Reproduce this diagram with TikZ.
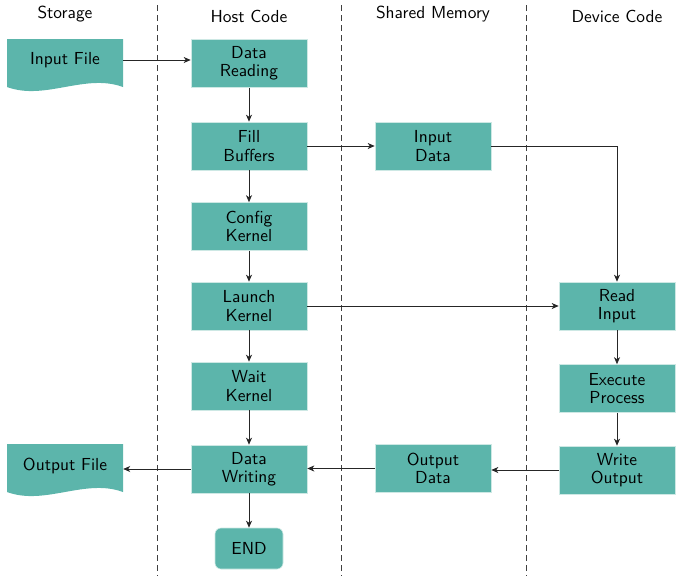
\documentclass[tikz,border=0pt]{standalone}
\usepackage{fontspec}
\setsansfont{lmsans10-regular.otf}
\usetikzlibrary{arrows.meta,calc}
\definecolor{boxteal}{RGB}{92,181,171}
\definecolor{boxedge}{RGB}{205,232,228}
\begin{document}
\begin{tikzpicture}[x=1pt,y=-1pt,
  every node/.style={font=\sffamily\fontsize{17.4}{18.5}\selectfont},
  stepbox/.style={rectangle,fill=boxteal,draw=boxedge,line width=0.6pt,
    minimum width=116pt,minimum height=48pt,align=center,inner sep=1pt},
  endbox/.style={rectangle,rounded corners=6pt,fill=boxteal,draw=boxedge,line width=0.6pt,
    minimum width=68pt,minimum height=41pt,align=center},
  filelabel/.style={rectangle,minimum width=116pt,minimum height=40pt,inner sep=0pt},
  header/.style={inner sep=0pt},
  lane/.style={dashed,dash pattern=on 6pt off 4pt,line width=0.8pt,black!75},
  flow/.style={-{Stealth[length=7pt,width=6pt,inset=2pt]},line width=0.8pt,black!85}]
\useasboundingbox (0,0) rectangle (677,576);

% lanes
\draw[lane] (157,5) -- (157,576);
\draw[lane] (341,5) -- (341,576);
\draw[lane] (526,5) -- (526,576);

% headers
\node[header] (hstor) at (65,14) {Storage};
\node[header] (hhost) at (249,16) {Host Code};
\node[header] (hshm) at (433,14) {Shared Memory};
\node[header] (hdev) at (617,16) {Device Code};

% file shapes
\fill[boxteal] (7,39) -- (123,39) -- (123,87) .. controls (85,73) and (45,101) .. (7,87) -- cycle;
\node[filelabel] (inf) at (65,60) {Input File};
\fill[boxteal] (7,444) -- (123,444) -- (123,492) .. controls (85,478) and (45,506) .. (7,492) -- cycle;
\node[filelabel] (outf) at (65,466) {Output File};

% host code
\node[stepbox] (read) at (249,63.5) {Data\\Reading};
\node[stepbox] (fill) at (249,146) {Fill\\Buffers};
\node[stepbox] (conf) at (249,226.5) {Config\\Kernel};
\node[stepbox] (launch) at (249,306) {Launch\\Kernel};
\node[stepbox] (wait) at (249,386) {Wait\\Kernel};
\node[stepbox] (write) at (249,469) {Data\\Writing};
\node[endbox] (end) at (249,548.5) {END};

% shared memory
\node[stepbox] (indata) at (433,146) {Input\\Data};
\node[stepbox] (outdata) at (433,468.5) {Output\\Data};

% device code
\node[stepbox] (rin) at (617,306) {Read\\Input};
\node[stepbox] (exec) at (617,388.5) {Execute\\Process};
\node[stepbox] (wout) at (617,470) {Write\\Output};

% connectors
\draw[flow] (inf.east) -- (inf.east -| read.west);
\draw[flow] (read) -- (fill);
\draw[flow] (fill) -- (conf);
\draw[flow] (conf) -- (launch);
\draw[flow] (launch) -- (wait);
\draw[flow] (wait) -- (write);
\draw[flow] (write) -- (end);
\draw[flow] (fill) -- (indata);
\draw[flow] (indata.east) -| (rin.north);
\draw[flow] (launch) -- (rin);
\draw[flow] (rin) -- (exec);
\draw[flow] (exec) -- (wout);
\draw[flow] (wout.west) -- (wout.west -| outdata.east);
\draw[flow] (outdata.west) -- (outdata.west -| write.east);
\draw[flow] (write.west) -- (write.west -| outf.east);
\end{tikzpicture}
\end{document}
